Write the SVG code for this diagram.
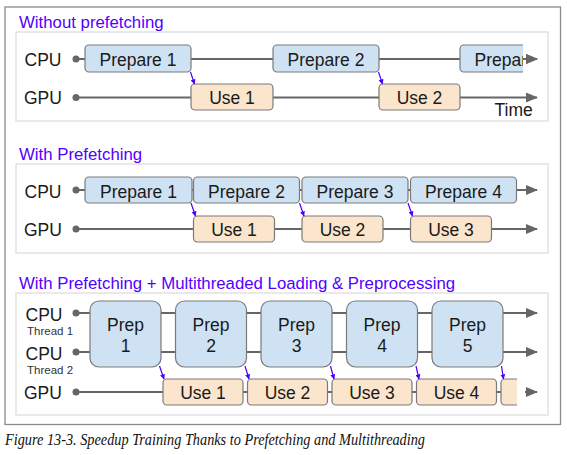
<svg xmlns="http://www.w3.org/2000/svg" width="567" height="455" viewBox="0 0 567 455">
<style>
.panel{fill:#fff;stroke:#e2e2e2;stroke-width:1.5}
.title{font-family:"Liberation Sans",Arial,sans-serif;font-size:16.8px;fill:#5200ff}
.lbl{font-family:"Liberation Sans",Arial,sans-serif;font-size:17.5px;fill:#1a1a1a}
.sub{font-family:"Liberation Sans",Arial,sans-serif;font-size:11.5px;fill:#333}
.bt{font-family:"Liberation Sans",Arial,sans-serif;font-size:17.5px;fill:#1a1a1a;text-anchor:middle}
.tl{stroke:#666;stroke-width:2;fill:none}
.dot{fill:#666}
.prep{fill:#cfe2f3;stroke:#7a7a7a;stroke-width:1.2}
.use{fill:#fce5cd;stroke:#7a7a7a;stroke-width:1.2}
.dep{stroke:#4a00ff;stroke-width:1.2;fill:none}
.cap{font-family:"Liberation Serif","Times New Roman",serif;font-style:italic;font-size:17.5px;fill:#111}
</style>
<defs>
<marker id="ah" viewBox="0 0 12 10" refX="11" refY="5" markerWidth="12" markerHeight="10" markerUnits="userSpaceOnUse" orient="auto">
<path d="M0,0 L12,5 L0,10 Z" fill="#666"/>
</marker>
<marker id="bh" viewBox="0 0 6 6" refX="5.5" refY="3" markerWidth="5" markerHeight="5" markerUnits="userSpaceOnUse" orient="auto">
<path d="M0,0 L6,3 L0,6 Z" fill="#4a00ff"/>
</marker>
<clipPath id="c1"><rect x="450" y="40" width="73" height="40"/></clipPath>
<clipPath id="c3"><rect x="495" y="370" width="22" height="40"/></clipPath>
</defs>

<rect x="5" y="7" width="555.5" height="417.5" fill="#fff" stroke="#8a8a8a" stroke-width="1.3"/>

<!-- Panel 1 -->
<g id="panel1">
<text class="title" x="19" y="27.5">Without prefetching</text>
<rect class="panel" x="16" y="32" width="532" height="89"/>
<text class="lbl" x="24.5" y="65.5">CPU</text>
<text class="lbl" x="24" y="104">GPU</text>
</g>
<g id="connectors1">
<line class="tl" x1="76" y1="59" x2="537" y2="59" marker-end="url(#ah)"/>
<line class="tl" x1="76" y1="97.5" x2="537" y2="97.5" marker-end="url(#ah)"/>
<circle class="dot" cx="76" cy="59" r="3.5"/>
<circle class="dot" cx="76" cy="97.5" r="3.5"/>
</g>
<g id="p1-prep1"><rect class="prep" x="85" y="45" width="106" height="27" rx="4"/><text class="bt" x="138" y="65.5">Prepare 1</text></g>
<g id="p1-use1"><rect class="use" x="191" y="84" width="82" height="26" rx="4"/><text class="bt" x="232" y="104">Use 1</text></g>
<g id="p1-prep2"><rect class="prep" x="273" y="45" width="106" height="27" rx="4"/><text class="bt" x="326" y="65.5">Prepare 2</text></g>
<g id="p1-use2"><rect class="use" x="379" y="84" width="81" height="26" rx="4"/><text class="bt" x="419.5" y="104">Use 2</text></g>
<g id="p1-prep3" clip-path="url(#c1)"><rect class="prep" x="460" y="45" width="106" height="27" rx="4"/><text class="bt" x="513" y="65.5">Prepare 3</text></g>
<g id="p1-arrows">
<line class="tl" x1="523" y1="59" x2="537" y2="59" marker-end="url(#ah)"/>
<text class="lbl" x="494.5" y="115.5">Time</text>
<line class="dep" x1="190.5" y1="72" x2="194.5" y2="84" marker-end="url(#bh)"/>
<line class="dep" x1="378.5" y1="72" x2="382.5" y2="84" marker-end="url(#bh)"/>
</g>

<!-- Panel 2 -->
<g id="panel2">
<text class="title" x="19" y="159.5">With Prefetching</text>
<rect class="panel" x="16" y="164" width="532" height="89"/>
<text class="lbl" x="24.5" y="197.5">CPU</text>
<text class="lbl" x="24" y="236">GPU</text>
</g>
<g id="connectors2">
<line class="tl" x1="76" y1="190" x2="537" y2="190" marker-end="url(#ah)"/>
<line class="tl" x1="76" y1="229" x2="537" y2="229" marker-end="url(#ah)"/>
<circle class="dot" cx="76" cy="190" r="3.5"/>
<circle class="dot" cx="76" cy="229" r="3.5"/>
</g>
<g id="p2-prep1"><rect class="prep" x="85" y="177" width="107" height="26" rx="4"/><text class="bt" x="138.5" y="197.5">Prepare 1</text></g>
<g id="p2-prep2"><rect class="prep" x="193.5" y="177" width="106" height="26" rx="4"/><text class="bt" x="246.5" y="197.5">Prepare 2</text></g>
<g id="p2-prep3"><rect class="prep" x="302" y="177" width="106" height="26" rx="4"/><text class="bt" x="355" y="197.5">Prepare 3</text></g>
<g id="p2-prep4"><rect class="prep" x="410.5" y="177" width="106" height="26" rx="4"/><text class="bt" x="463.5" y="197.5">Prepare 4</text></g>
<g id="p2-use1"><rect class="use" x="193.5" y="216" width="81" height="26" rx="4"/><text class="bt" x="234" y="236">Use 1</text></g>
<g id="p2-use2"><rect class="use" x="302" y="216" width="81" height="26" rx="4"/><text class="bt" x="342.5" y="236">Use 2</text></g>
<g id="p2-use3"><rect class="use" x="410.5" y="216" width="81" height="26" rx="4"/><text class="bt" x="451" y="236">Use 3</text></g>
<g id="p2-arrows">
<line class="dep" x1="191" y1="203" x2="195.5" y2="216" marker-end="url(#bh)"/>
<line class="dep" x1="299.5" y1="203" x2="304" y2="216" marker-end="url(#bh)"/>
<line class="dep" x1="408" y1="203" x2="412.5" y2="216" marker-end="url(#bh)"/>
</g>

<!-- Panel 3 -->
<g id="panel3">
<text class="title" x="19" y="289">With Prefetching + Multithreaded Loading &amp; Preprocessing</text>
<rect class="panel" x="16" y="293" width="532" height="122"/>
<text class="lbl" x="25.5" y="321">CPU</text>
<text class="sub" x="27" y="335">Thread 1</text>
<text class="lbl" x="25.5" y="359.5">CPU</text>
<text class="sub" x="27" y="373.5">Thread 2</text>
<text class="lbl" x="24" y="399">GPU</text>
</g>
<g id="connectors3">
<line class="tl" x1="76" y1="313" x2="537" y2="313" marker-end="url(#ah)"/>
<line class="tl" x1="76" y1="352" x2="537" y2="352" marker-end="url(#ah)"/>
<line class="tl" x1="76" y1="392" x2="505" y2="392"/>
<line class="tl" x1="525" y1="392" x2="537" y2="392" marker-end="url(#ah)"/>
<circle class="dot" cx="76" cy="313" r="3.5"/>
<circle class="dot" cx="76" cy="352" r="3.5"/>
<circle class="dot" cx="76" cy="392" r="3.5"/>
</g>
<g id="p3-prep1"><rect class="prep" x="90" y="301" width="71" height="66" rx="9"/><text class="bt" x="125.5" y="331">Prep</text><text class="bt" x="125.5" y="352">1</text></g>
<g id="p3-prep2"><rect class="prep" x="175.5" y="301" width="71" height="66" rx="9"/><text class="bt" x="211" y="331">Prep</text><text class="bt" x="211" y="352">2</text></g>
<g id="p3-prep3"><rect class="prep" x="261" y="301" width="71" height="66" rx="9"/><text class="bt" x="296.5" y="331">Prep</text><text class="bt" x="296.5" y="352">3</text></g>
<g id="p3-prep4"><rect class="prep" x="346.5" y="301" width="71" height="66" rx="9"/><text class="bt" x="382" y="331">Prep</text><text class="bt" x="382" y="352">4</text></g>
<g id="p3-prep5"><rect class="prep" x="432" y="301" width="71" height="66" rx="9"/><text class="bt" x="467.5" y="331">Prep</text><text class="bt" x="467.5" y="352">5</text></g>
<g id="p3-use1"><rect class="use" x="163" y="379" width="80" height="26" rx="4"/><text class="bt" x="203" y="398.5">Use 1</text></g>
<g id="p3-use2"><rect class="use" x="247.5" y="379" width="80" height="26" rx="4"/><text class="bt" x="287.5" y="398.5">Use 2</text></g>
<g id="p3-use3"><rect class="use" x="332" y="379" width="80" height="26" rx="4"/><text class="bt" x="372" y="398.5">Use 3</text></g>
<g id="p3-use4"><rect class="use" x="416.5" y="379" width="80" height="26" rx="4"/><text class="bt" x="456.5" y="398.5">Use 4</text></g>
<g id="p3-use5" clip-path="url(#c3)"><rect class="use" x="501" y="379" width="80" height="26" rx="4"/></g>
<g id="p3-arrows">
<line class="dep" x1="159.5" y1="366" x2="164" y2="379" marker-end="url(#bh)"/>
<line class="dep" x1="245" y1="366" x2="249" y2="379" marker-end="url(#bh)"/>
<line class="dep" x1="330.5" y1="366" x2="334" y2="379" marker-end="url(#bh)"/>
<line class="dep" x1="416" y1="366" x2="419" y2="379" marker-end="url(#bh)"/>
<line class="dep" x1="501.5" y1="366" x2="503.5" y2="379" marker-end="url(#bh)"/>
</g>

<text class="cap" x="5" y="445" textLength="420" lengthAdjust="spacingAndGlyphs">Figure 13-3. Speedup Training Thanks to Prefetching and Multithreading</text>
</svg>
